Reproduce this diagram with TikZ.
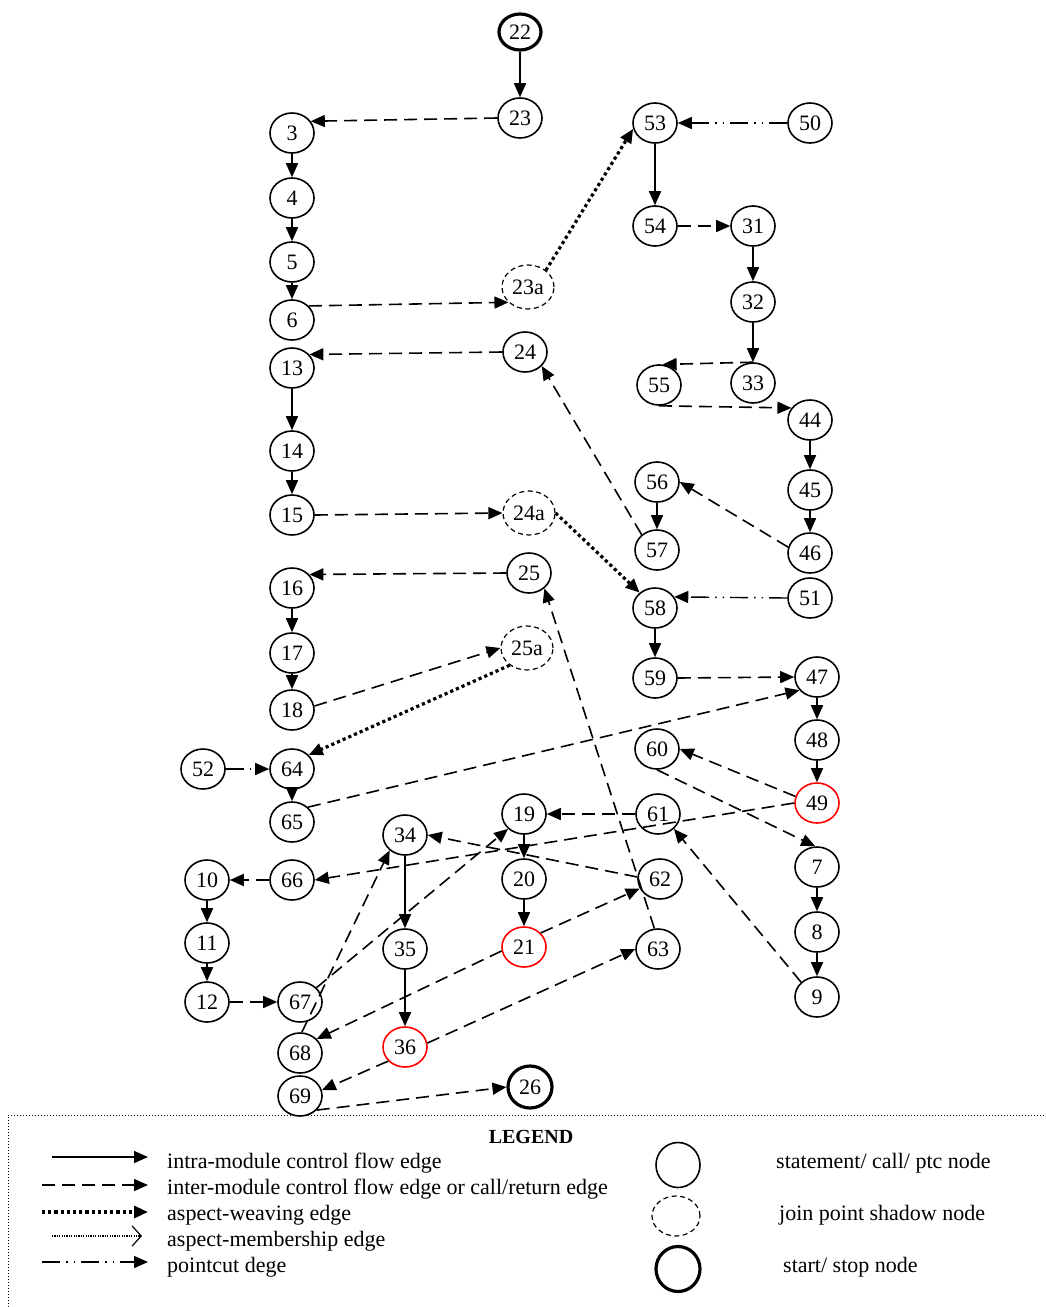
\documentclass[tikz,border=0pt]{standalone}
\usepackage{fontspec}
\setmainfont{Liberation Serif}
\usetikzlibrary{arrows.meta,shapes.geometric}

\begin{document}
\begin{tikzpicture}[
  x=1pt, y=-1pt,
  font=\fontsize{22}{26}\selectfont,
  cfg/.style={ellipse, draw, line width=1.6pt, minimum width=44pt, minimum height=40pt, inner sep=1pt},
  shadow/.style={cfg, line width=1.2pt, dash pattern=on 5pt off 3.5pt, minimum width=52pt, minimum height=44pt},
  startstop/.style={cfg, line width=3.2pt, minimum width=42pt, minimum height=36pt},
  hot/.style={cfg, draw=red},
  intra/.style={-{Triangle[length=14pt,width=12pt]}, line width=1.6pt},
  inter/.style={intra, dash pattern=on 13pt off 7pt},
  weave/.style={intra, line width=3.2pt, dash pattern=on 3.2pt off 3pt},
  pointcut/.style={intra, line width=1.4pt, dash pattern=on 18pt off 6pt on 1.5pt off 6pt on 1.5pt off 6pt},
  member/.style={-{Straight Barb[length=9pt,width=20pt,line width=1.2pt]}, line width=1.2pt, dash pattern=on 1.2pt off 1.2pt},
  legtext/.style={anchor=west, inner sep=0pt}
]
\useasboundingbox (0,0) rectangle (1045,1307);

% left column
\node[startstop] (22) at (520,32) {22};
\node[cfg] (23) at (520,118) {23};
\node[cfg] (3) at (292,133) {3};
\node[cfg] (4) at (292,198) {4};
\node[cfg] (5) at (292,262) {5};
\node[cfg] (6) at (292,320) {6};
\node[shadow] (23a) at (528,287) {23a};
\node[cfg] (24) at (525,352) {24};
\node[cfg] (13) at (292,368) {13};
\node[cfg] (14) at (292,451) {14};
\node[cfg] (15) at (292,515) {15};
\node[shadow] (24a) at (529,513) {24a};
\node[cfg] (25) at (529,573) {25};
\node[cfg] (16) at (292,588) {16};
\node[cfg] (17) at (292,653) {17};
\node[cfg] (18) at (292,710) {18};
\node[shadow] (25a) at (527,648) {25a};
\node[cfg] (52) at (203,769) {52};
\node[cfg] (64) at (292,769) {64};
\node[cfg] (65) at (292,822) {65};
\node[cfg] (34) at (405,835) {34};
\node[cfg] (10) at (207,880) {10};
\node[cfg] (66) at (292,880) {66};
\node[cfg] (11) at (207,943) {11};
\node[cfg] (35) at (405,949) {35};
\node[cfg] (12) at (207,1002) {12};
\node[cfg] (67) at (300,1002) {67};
\node[cfg] (68) at (300,1053) {68};
\node[hot] (36) at (405,1047) {36};
\node[cfg] (69) at (300,1096) {69};
\node[startstop, minimum width=44pt, minimum height=42pt] (26) at (530,1087) {26};

% middle and right columns
\node[cfg] (53) at (655,123) {53};
\node[cfg] (50) at (810,123) {50};
\node[cfg] (54) at (655,226) {54};
\node[cfg] (31) at (753,226) {31};
\node[cfg] (32) at (753,302) {32};
\node[cfg] (33) at (753,383) {33};
\node[cfg] (55) at (659,385) {55};
\node[cfg] (44) at (810,420) {44};
\node[cfg] (45) at (810,490) {45};
\node[cfg] (46) at (810,553) {46};
\node[cfg] (56) at (657,482) {56};
\node[cfg] (57) at (657,550) {57};
\node[cfg] (51) at (810,598) {51};
\node[cfg] (58) at (655,608) {58};
\node[cfg] (59) at (655,678) {59};
\node[cfg] (47) at (817,677) {47};
\node[cfg] (48) at (817,740) {48};
\node[hot] (49) at (817,803) {49};
\node[cfg] (60) at (657,749) {60};
\node[cfg] (19) at (524,814) {19};
\node[cfg] (61) at (658,814) {61};
\node[cfg] (20) at (524,879) {20};
\node[cfg] (62) at (660,879) {62};
\node[hot] (21) at (524,947) {21};
\node[cfg] (63) at (658,949) {63};
\node[cfg] (7) at (817,867) {7};
\node[cfg] (8) at (817,932) {8};
\node[cfg] (9) at (817,997) {9};

% intra-module edges
\foreach \a/\b in {22/23, 3/4, 4/5, 5/6, 53/54, 31/32, 32/33, 44/45, 45/46, 56/57,
    13/14, 14/15, 58/59, 16/17, 17/18, 64/65, 47/48, 48/49, 7/8, 8/9,
    19/20, 20/21, 34/35, 35/36, 10/11, 11/12}
  \draw[intra] (\a.south) -- (\b.north);

% inter-module edges
\draw[inter] (23.west) -- (3.32);
\draw[inter] (6.40) -- (23a.218);
\draw[inter] (54.east) -- (31.west);
\draw[inter] (33.north) -- (55.80);
\draw[inter] (55.south) -- (44.147);
\draw[inter] (46.165) -- (56.east);
\draw[inter] (57.135) -- (24.-40);
\draw[inter] (24.west) -- (13.38);
\draw[inter] (15.east) -- (24a.west);
\draw[inter] (59.east) -- (47.west);
\draw[inter] (63.100) -- (25.-45);
\draw[inter] (25.west) -- (16.38);
\draw[inter] (18.10) -- (25a.west);
\draw[inter] (65.43) -- (47.217);
\draw[inter] (49.163) -- (60.east);
\draw[inter] (60.south) -- (7.95);
\draw[inter] (49.west) -- (66.east);
\draw[inter] (61.west) -- (19.east);
\draw[inter] (9.137) -- (61.-43);
\draw[inter] (21.40) -- (62.205);
\draw[inter] (62.175) -- (34.east);
\draw[inter] (21.190) -- (68.40);
\draw[inter] (36.10) -- (63.west);
\draw[inter] (36.220) -- (69.15);
\draw[inter] (67.41) -- (19.223);
\draw[inter] (68.85) -- (34.225);
\draw[inter] (66.west) -- (10.east);
\draw[inter] (12.east) -- (67.west);
\draw[inter] (69.-40) -- (26.west);

% aspect weaving and pointcuts
\draw[weave] (23a.43) -- (53.195);
\draw[weave] (24a.east) -- (58.135);
\draw[weave] (25a.225) -- (64.40);
\draw[pointcut] (50.west) -- (53.east);
\draw[pointcut] (51.west) -- (58.30);
\draw[pointcut] (52.east) -- (64.west);

% legend
\draw[line width=1pt, dash pattern=on 1.2pt off 1.8pt] (8,1307) |- (1045,1115);
\node[font=\fontsize{20}{24}\selectfont\bfseries] (legend) at (531,1137) {LEGEND};

\coordinate (k1a) at (52,1157);  \coordinate (k1b) at (148,1157);
\coordinate (k2a) at (42,1185);  \coordinate (k2b) at (148,1185);
\coordinate (k3a) at (42,1212);  \coordinate (k3b) at (148,1212);
\coordinate (k4a) at (52,1236);  \coordinate (k4b) at (142,1236);
\coordinate (k5a) at (42,1262);  \coordinate (k5b) at (148,1262);
\draw[intra] (k1a) -- (k1b);
\draw[inter] (k2a) -- (k2b);
\draw[weave] (k3a) -- (k3b);
\draw[member] (k4a) -- (k4b);
\draw[pointcut] (k5a) -- (k5b);

\node[legtext] (t1) at (167,1163) {intra-module control flow edge};
\node[legtext] (t2) at (167,1189) {inter-module control flow edge or call/return edge};
\node[legtext] (t3) at (167,1215) {aspect-weaving edge};
\node[legtext] (t4) at (167,1241) {aspect-membership edge};
\node[legtext] (t5) at (167,1267) {pointcut dege};

\node[cfg, minimum height=45pt] (kstmt) at (678,1165) {};
\node[shadow, minimum width=48pt, minimum height=40pt] (kjps) at (676,1216) {};
\node[startstop, minimum width=44pt, minimum height=45pt] (kstart) at (678,1269) {};
\node[legtext] (s1) at (776,1163) {statement/ call/ ptc node};
\node[legtext] (s2) at (779,1215) {join point shadow node};
\node[legtext] (s3) at (783,1267) {start/ stop node};

\end{tikzpicture}
\end{document}
